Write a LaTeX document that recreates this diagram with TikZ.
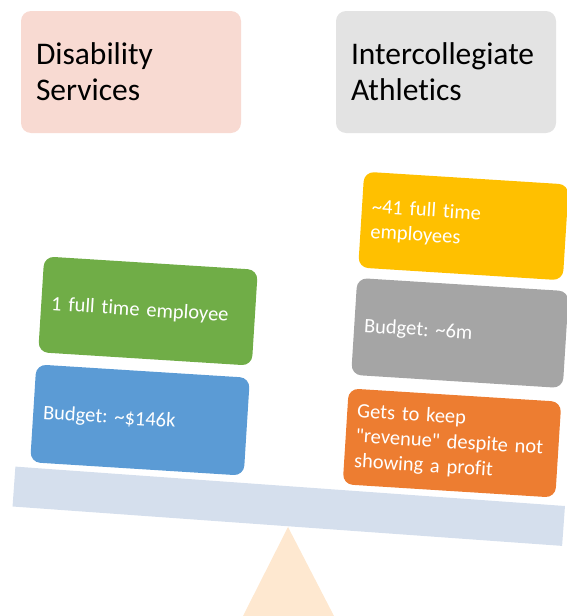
\documentclass[tikz,border=0pt]{standalone}
\usepackage{fontspec}
\setmainfont{Carlito}[Ligatures={TeXOff,NoCommon}]
\frenchspacing
\definecolor{pinkbox}{HTML}{F8DAD2}
\definecolor{graytitle}{HTML}{E3E3E3}
\definecolor{beamcol}{HTML}{D5DFED}
\definecolor{fulcrum}{HTML}{FEE8D0}
\definecolor{greenbox}{HTML}{70AD47}
\definecolor{bluebox}{HTML}{5B9BD5}
\definecolor{yellowbox}{HTML}{FFC000}
\definecolor{graybox}{HTML}{A5A5A5}
\definecolor{orangebox}{HTML}{ED7D31}
\tikzset{
  titlebox/.style={rectangle, rounded corners=10pt, minimum width=220pt, minimum height=122pt,
    inner xsep=15pt, text width=190pt, align=left, font=\fontsize{31.5}{36}\selectfont, text=black},
  weightbox/.style={rectangle, rounded corners=10pt, minimum height=96pt, rotate=-3.6,
    inner xsep=10pt, align=left, font=\fontsize{20.5}{25}\selectfont, text=white},
}
\begin{document}
\begin{tikzpicture}[x=1pt,y=-1pt]
\useasboundingbox (0,0) rectangle (567,616);
\begin{scope}
\clip (0,0) rectangle (567,616);
% fulcrum
\fill[fulcrum] (288,527) -- (243,616) -- (334,616) -- cycle;
\node[fill=beamcol, rectangle, minimum width=551pt, minimum height=40pt, rotate=-4.1, inner sep=0pt] (beam) at (288.75,506.25) {};
\end{scope}
% titles
\node[titlebox, fill=pinkbox] (ds) at (131,72) {Disability\\Services};
\node[titlebox, fill=graytitle] (ia) at (446,72) {Intercollegiate\\Athletics};
% left weights
\node[weightbox, fill=greenbox, minimum width=214pt, text width=194pt] (emp1) at (148,311) {1 full time employee};
\node[weightbox, fill=bluebox, minimum width=214pt, minimum height=98pt, text width=194pt] (bud1) at (140,420) {Budget: \textasciitilde\$146k};
% right weights
\node[weightbox, fill=yellowbox, minimum width=205pt, text width=185pt] (emp2) at (463.5,226) {\textasciitilde41 full time\\employees};
\node[weightbox, fill=graybox, minimum width=212pt, minimum height=97pt, text width=192pt] (bud2) at (460,333) {Budget: \textasciitilde6m};
\node[weightbox, fill=orangebox, minimum width=213pt, text width=193pt] (rev) at (452,443) {Gets to keep\\"revenue" despite not\\showing a profit};
\end{tikzpicture}
\end{document}
